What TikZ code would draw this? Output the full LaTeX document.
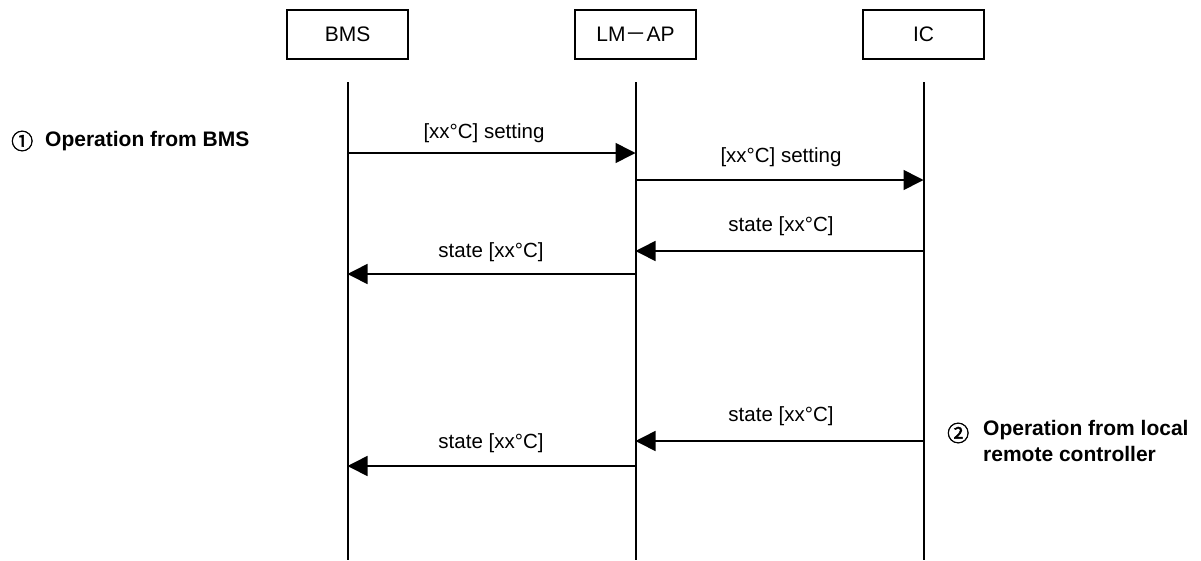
\documentclass[tikz,border=0pt]{standalone}
\usepackage{fontspec}
\setmainfont{Liberation Sans}
\newfontfamily\cjk{Noto Sans CJK JP}
\newfontfamily\cjkb[FakeBold=2]{Noto Sans CJK JP}
\usetikzlibrary{arrows.meta}
\begin{document}
\begin{tikzpicture}[x=1pt,y=-1pt,
  actor/.style={draw,line width=1.6pt,minimum width=121pt,minimum height=49pt,inner sep=0pt,font=\fontsize{21}{24}\selectfont},
  life/.style={line width=2pt},
  msg/.style={line width=1.6pt,-{Triangle[length=20pt,width=20pt]}},
  lbl/.style={font=\fontsize{20.5}{24}\selectfont,inner sep=0pt},
  note/.style={font=\fontsize{21}{26}\selectfont\bfseries,inner sep=0pt,anchor=west,align=left},
  num/.style={font=\fontsize{22}{24}\selectfont\cjkb,inner sep=0pt,anchor=west}]
\useasboundingbox (0,0) rectangle (1201,560);
% actors
\node[actor] (bms) at (347.5,34.5) {BMS};
\node[actor] (lm) at (635.5,34.5) {LM{\cjk －}AP};
\node[actor] (ic) at (923.5,34.5) {IC};
% lifelines
\coordinate (bmsT) at (347.5,82);
\coordinate (bmsB) at (347.5,560);
\coordinate (lmT) at (635.5,82);
\coordinate (lmB) at (635.5,560);
\coordinate (icT) at (923.5,82);
\coordinate (icB) at (923.5,560);
\draw[life] (bmsT) -- (bmsB);
\draw[life] (lmT) -- (lmB);
\draw[life] (icT) -- (icB);
% message points
\coordinate (b1) at (347.5,153);  \coordinate (l1) at (635.5,153);
\coordinate (l2) at (635.5,180);  \coordinate (i2) at (923.5,180);
\coordinate (i3) at (923.5,251);  \coordinate (l3) at (635.5,251);
\coordinate (l4) at (635.5,274);  \coordinate (b4) at (347.5,274);
\coordinate (i5) at (923.5,441);  \coordinate (l5) at (635.5,441);
\coordinate (l6) at (635.5,466);  \coordinate (b6) at (347.5,466);
\draw[msg] (b1) -- (l1);
\draw[msg] (l2) -- (i2);
\draw[msg] (i3) -- (l3);
\draw[msg] (l4) -- (b4);
\draw[msg] (i5) -- (l5);
\draw[msg] (l6) -- (b6);
% labels
\node[lbl] (t1) at (484,133) {[xx°C] setting};
\node[lbl] (t2) at (781,157) {[xx°C] setting};
\node[lbl] (t3) at (781,226) {state [xx°C]};
\node[lbl] (t4) at (491,252) {state [xx°C]};
\node[lbl] (t5) at (781,416) {state [xx°C]};
\node[lbl] (t6) at (491,443) {state [xx°C]};
% notes
\node[num] (n1) at (11,141) {①};
\node[note] (o1) at (45,141) {Operation from BMS};
\node[num] (n2) at (947,433) {②};
\node[note,anchor=north west] (o2) at (983,420) {Operation from local\\remote controller};
\end{tikzpicture}
\end{document}
